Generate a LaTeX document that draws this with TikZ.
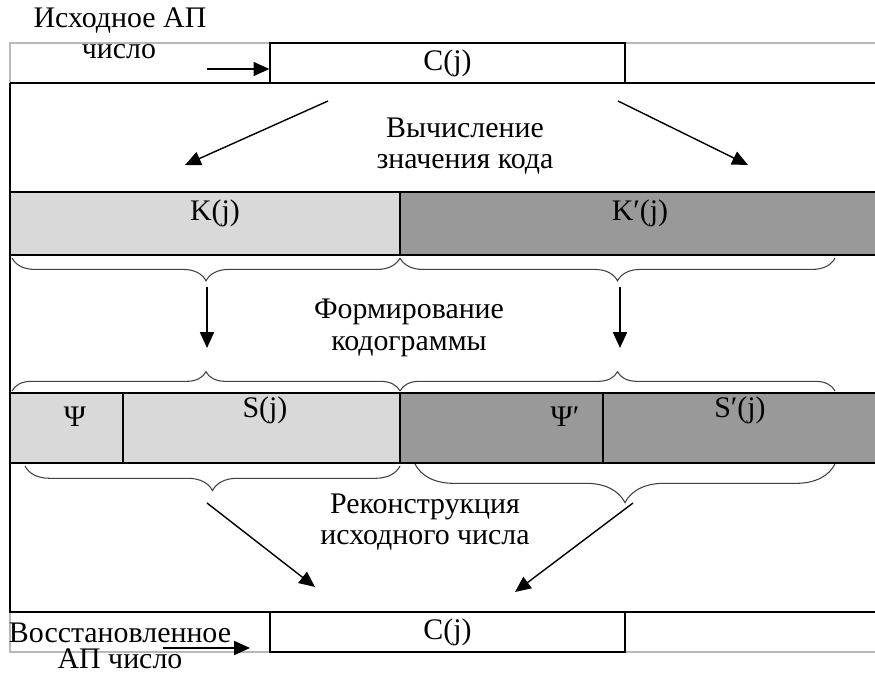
\documentclass[tikz,border=0pt]{standalone}
\usepackage{fontspec}
\setmainfont{Liberation Serif}
\usetikzlibrary{arrows.meta,decorations.pathreplacing}

\tikzset{
  frame/.style={black,line width=0.8pt},
  flow/.style={-{Triangle[length=9pt,width=8pt]},line width=0.8pt},
  curly/.style={decorate,decoration={brace,amplitude=#1},line width=0.6pt,black!75},
  lbl/.style={font=\fontsize{17}{18}\selectfont,inner sep=0pt},
  note/.style={lbl,align=center},
  cbox/.style={lbl,draw,frame,minimum width=7.1cm,minimum height=0.8cm}
}

\begin{document}
\begin{tikzpicture}[x=0.02cm,y=-0.02cm]
\useasboundingbox (0,0) rectangle (875,675);

\definecolor{cellA}{RGB}{217,217,217}
\definecolor{cellB}{RGB}{153,153,153}
\definecolor{rule}{RGB}{185,185,185}

\fill[cellA] (10,192) rectangle (400,255);
\fill[cellB] (400,192) rectangle (875,255);
\fill[cellA] (10,393) rectangle (400,463);
\fill[cellB] (400,393) rectangle (875,463);

\draw[rule,line width=0.8pt] (875,43) -- (10,43) -- (10,83);
\draw[rule,line width=0.8pt] (10,612) -- (10,652) -- (875,652);
\draw[frame] (10,83) -- (875,83);
\draw[frame] (10,83) -- (10,612) -- (875,612);
\foreach \y in {192,255,393,463}
  \draw[frame] (10,\y) -- (875,\y);
\foreach \x/\ya/\yb in {400/192/255,400/393/463,123/393/463,603/393/463}
  \draw[frame] (\x,\ya) -- (\x,\yb);

\node[cbox] (srcC) at (447.5,63) {C(j)};
\node[cbox] (outC) at (447.5,632) {C(j)};

\node[lbl] (srcTxtA) at (120,21) {Исходное АП};
\node[lbl] (srcTxtB) at (119,52) {число};
\node[lbl] (outTxtA) at (120,633) {Восстановленное};
\node[lbl] (outTxtB) at (120,659) {АП число};

\node[lbl] (kA) at (215,213) {K(j)};
\node[lbl] (kB) at (640,213) {K′(j)};
\node[lbl] (psiA) at (75,417) {Ψ};
\node[lbl] (sA) at (265,410) {S(j)};
\node[lbl] (psiB) at (565,417) {Ψ′};
\node[lbl] (sB) at (740,410) {S′(j)};

\node[note] (calcTxt) at (465,146) {Вычисление\\значения кода};
\node[note] (formTxt) at (409,328) {Формирование\\кодограммы};
\node[note] (recTxt) at (425,522) {Реконструкция\\исходного числа};

\draw[curly=13pt] (400,258) -- (12,258);
\draw[curly=13pt] (835,258) -- (400,258);
\draw[curly=11pt] (12,391) -- (400,391);
\draw[curly=11pt] (400,391) -- (835,391);
\draw[curly=14pt] (400,466) -- (25,466);
\draw[curly=22pt] (835,464) -- (415,464);

\coordinate (inTail) at (207,69);
\coordinate (outTail) at (163,648);
\coordinate (outHead) at (250,648);
\coordinate (calcL0) at (328,101);
\coordinate (calcL1) at (185,165);
\coordinate (calcR0) at (618,101);
\coordinate (calcR1) at (748,165);
\coordinate (formL0) at (207,287);
\coordinate (formL1) at (207,348);
\coordinate (formR0) at (620,287);
\coordinate (formR1) at (620,348);
\coordinate (recL0) at (207,503);
\coordinate (recL1) at (315,587);
\coordinate (recR0) at (633,503);
\coordinate (recR1) at (515,592);

\draw[flow] (inTail) -- (inTail -| srcC.west);
\draw[flow] (outTail) -- (outHead);
\foreach \a/\b in {calcL0/calcL1,calcR0/calcR1,formL0/formL1,formR0/formR1,recL0/recL1,recR0/recR1}
  \draw[flow] (\a) -- (\b);

\end{tikzpicture}
\end{document}
